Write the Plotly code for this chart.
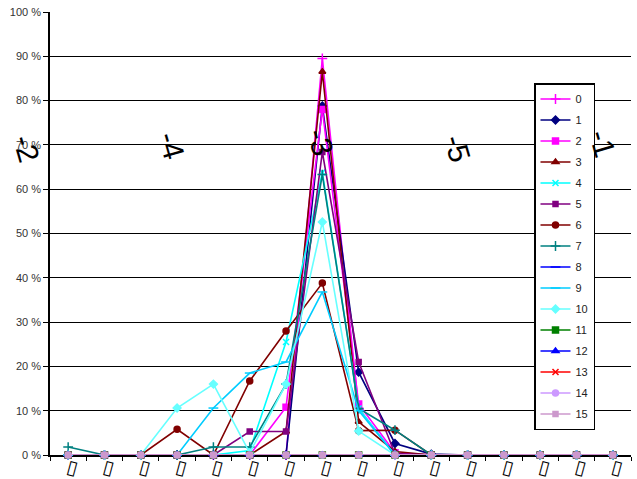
import plotly.graph_objects as go

# Category positions (labels could not be rendered in the source font, shown as boxes)
categories = list(range(16))
category_labels = ["▯"] * 16

# Share of observations per category (%), one list per series
s0 = [0, 0, 0, 0, 0, 0, 0, 89.5, 10.5, 0, 0, 0, 0, 0, 0, 0]
s1 = [0, 0, 0, 0, 0, 0, 0, 78.8, 18.7, 2.6, 0.2, 0, 0, 0, 0, 0]
s2 = [0, 0, 0, 0, 0, 0, 10.8, 78.0, 11.5, 0.5, 0, 0, 0, 0, 0, 0]
s3 = [0, 0, 0, 0, 0, 0, 5.3, 86.5, 7.5, 0.8, 0, 0, 0, 0, 0, 0]
s4 = [0, 0, 0, 0, 0, 1.0, 25.5, 63.8, 10.5, 0, 0, 0, 0, 0, 0, 0]
s5 = [0, 0, 0, 0, 0, 5.3, 5.3, 68.4, 21.0, 0.3, 0, 0, 0, 0, 0, 0]
s6 = [0, 0, 0, 5.8, 0, 16.7, 28.0, 38.8, 5.5, 5.6, 0, 0, 0, 0, 0, 0]
s7 = [1.8, 0, 0, 0, 1.8, 1.8, 16.0, 63.3, 10.5, 5.6, 0, 0, 0, 0, 0, 0]
s8 = [0] * 16
s9 = [0, 0, 0, 0, 10.6, 18.5, 21.0, 36.8, 10.0, 0, 0, 0, 0, 0, 0, 0]
s10 = [0, 0, 0, 10.6, 16.0, 0.5, 16.0, 52.6, 5.4, 0, 0, 0, 0, 0, 0, 0]
s11 = [0] * 16
s12 = [0] * 16
s13 = [0] * 16
s14 = [0] * 16
s15 = [0] * 16

series = [s0, s1, s2, s3, s4, s5, s6, s7, s8, s9, s10, s11, s12, s13, s14, s15]
series_names = [str(i) for i in range(16)]

# Rotated group labels across the plot
group_labels = ["-2", "-4", "-3", "-5", "-1"]
group_px = [(27, 148), (172, 145), (320, 142), (458, 148), (603, 143)]

colors = ["#FF00FF", "#000080", "#FF00FF", "#800000", "#00FFFF", "#800080",
          "#800000", "#008080", "#0000FF", "#00CCFF", "#66FFFF", "#008000",
          "#0000FF", "#FF0000", "#CC99FF", "#CC99CC"]
symbols = ["cross-thin", "diamond", "square", "triangle-up", "x-thin", "square",
           "circle", "cross-thin", "line-ew", "line-ew", "diamond", "square",
           "triangle-up", "x-thin", "circle", "square"]
sizes = [7, 6, 6, 6, 6, 5, 6, 7, 7, 7, 6, 6, 6, 6, 6, 5]

fig = go.Figure()
for name, vals, col, sym, sz in zip(series_names, series, colors, symbols, sizes):
    fig.add_trace(go.Scatter(
        x=categories, y=vals, name=name, legendgroup="g" + name,
        mode="lines+markers",
        line=dict(color=col, width=1.6),
        marker=dict(symbol=sym, size=sz, color=col,
                    line=dict(color=col, width=1.5)),
        cliponaxis=False,
    ))

# Plot-area geometry in pixels (for placing the rotated labels)
L, R, T, B = 50, 631, 12, 455
for txt, (px, py) in zip(group_labels, group_px):
    fig.add_annotation(
        text=txt, xref="paper", yref="paper",
        x=(px - L) / (R - L), y=(B - py) / (B - T),
        xanchor="center", yanchor="middle", showarrow=False,
        textangle=74,
        font=dict(family="Liberation Sans, Arial", size=30, color="black"),
    )

fig.update_layout(
    width=637, height=479,
    margin=dict(l=L, r=637 - R, t=T, b=479 - B),
    paper_bgcolor="white", plot_bgcolor="white",
    font=dict(family="Liberation Sans, Arial", size=11, color="#222222"),
    showlegend=True,
    legend=dict(
        x=(534 - L) / (R - L), y=(B - 83) / (B - T),
        xanchor="left", yanchor="top",
        bgcolor="white", bordercolor="black", borderwidth=1.5,
        font=dict(size=11, color="#222222"),
        itemwidth=30, tracegroupgap=2,
    ),
    xaxis=dict(
        range=[-0.5, 15.5], tickmode="array", tickvals=categories,
        ticktext=category_labels, tickangle=15, ticks="",
        tickfont=dict(family="DejaVu Sans", size=19, color="black"),
        ticklabelstandoff=-7,
        showgrid=False, zeroline=False, automargin=False,
        showline=True, linecolor="black", linewidth=1.5,
        layer="below traces",
        minor=dict(ticks="outside", tick0=-0.5, dtick=1, ticklen=4,
                   tickcolor="black", tickwidth=1, showgrid=False),
    ),
    yaxis=dict(
        range=[0, 100], dtick=10, ticksuffix=" %", automargin=False,
        ticks="outside", ticklen=5, tickcolor="black",
        showgrid=True, gridcolor="black", gridwidth=1.3,
        zeroline=False, showline=True, linecolor="black", linewidth=1.5,
        layer="below traces",
        tickfont=dict(size=11, color="#333333"),
    ),
)

fig.write_html("out.html")
